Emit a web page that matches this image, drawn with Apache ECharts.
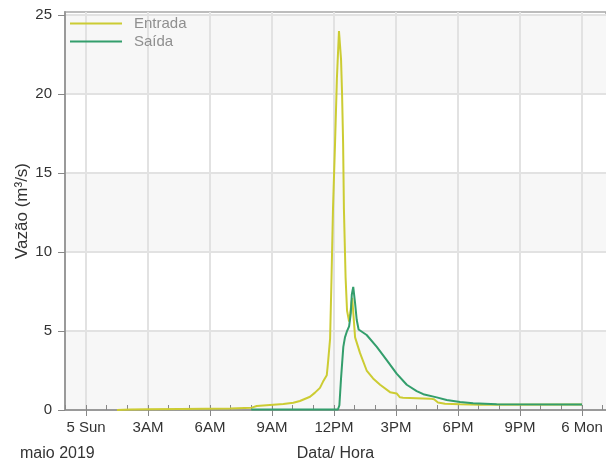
<!DOCTYPE html>
<html>
<head>
<meta charset="utf-8">
<script src="https://cdn.jsdelivr.net/npm/echarts@6/dist/echarts.min.js"></script>
<style>
  html, body { margin: 0; padding: 0; background: #ffffff; }
  #chart { width: 606px; height: 463px; }
</style>
</head>
<body>
<div id="chart"></div>
<script>
// Hours counted from 00:00 on 5 May 2019
const entradaHoras = [1.5, 2.13, 2.94, 4.55, 6.97, 8.02, 8.26, 8.90, 9.55, 10.03, 10.35, 10.84, 11.08, 11.32, 11.47, 11.65, 11.71, 11.81, 11.88, 11.95, 12.05, 12.14, 12.24, 12.34, 12.39, 12.44, 12.48, 12.56, 12.63, 12.73, 12.88, 13.02, 13.26, 13.58, 13.89, 14.23, 14.71, 15.03, 15.19, 15.34, 16.64, 16.84, 17.03, 17.37, 18.10, 19.06, 24.0];
const entradaVazao = [0.0, 0.03, 0.05, 0.07, 0.10, 0.15, 0.25, 0.32, 0.38, 0.46, 0.57, 0.84, 1.1, 1.4, 1.8, 2.2, 3.0, 4.5, 8.4, 12.7, 16.9, 21.0, 24.0, 22.2, 20.0, 16.9, 12.7, 8.4, 6.3, 5.6, 7.1, 4.6, 3.6, 2.5, 2.0, 1.6, 1.13, 1.05, 0.8, 0.78, 0.72, 0.68, 0.48, 0.40, 0.36, 0.34, 0.35];

const saidaHoras = [8.0, 12.19, 12.26, 12.34, 12.45, 12.53, 12.63, 12.73, 12.81, 12.86, 12.93, 13.02, 13.10, 13.19, 13.58, 14.07, 14.55, 15.03, 15.52, 16.00, 16.32, 16.97, 17.45, 18.10, 18.73, 19.87, 24.0];
const saidaVazao = [0.03, 0.03, 0.3, 2.0, 4.0, 4.6, 5.0, 5.3, 6.1, 7.3, 7.8, 6.75, 5.7, 5.1, 4.75, 4.0, 3.16, 2.3, 1.6, 1.2, 1.0, 0.8, 0.63, 0.5, 0.42, 0.37, 0.35];

const tickHoras = [0, 3, 6, 9, 12, 15, 18, 21, 24];
const tickLabels = ['5 Sun', '3AM', '6AM', '9AM', '12PM', '3PM', '6PM', '9PM', '6 Mon'];
const yTicks = [0, 5, 10, 15, 20, 25];

const hourTicks = [];
for (let h = -1; h <= 25; h++) hourTicks.push(h);

const pairs = (xs, ys) => xs.map((x, i) => [x, ys[i]]);

const FONT = 'Liberation Sans, Arial, sans-serif';
const xMin = -1.016, xMax = 25.16;

const chart = echarts.init(document.getElementById('chart'), null, { renderer: 'canvas' });
chart.setOption({
  animation: false,
  backgroundColor: '#ffffff',
  textStyle: { fontFamily: FONT },
  grid: {
    left: 65, right: 0, top: 12, bottom: 53,
    outerBoundsMode: 'none', containLabel: false,
    show: true, borderColor: '#a8a8a8', borderWidth: 1.5, backgroundColor: 'transparent'
  },
  legend: {
    orient: 'vertical', left: 65, top: 11,
    icon: 'rect', itemWidth: 52, itemHeight: 2, itemGap: 3,
    textStyle: { color: '#8f8f8f', fontSize: 15, fontFamily: FONT, padding: [0, 0, 0, 7] },
    data: ['Entrada', 'Saída']
  },
  xAxis: [
    {
      type: 'value', position: 'bottom', min: xMin, max: xMax,
      axisLine: { show: true, onZero: false, lineStyle: { color: '#9a9a9a', width: 2 } },
      axisTick: { show: true, inside: true, length: 5, customValues: hourTicks, lineStyle: { color: '#888888', width: 1 } },
      axisLabel: { show: false },
      splitLine: { show: false }
    },
    {
      type: 'value', position: 'bottom', min: xMin, max: xMax,
      name: 'Data/ Hora', nameLocation: 'middle', nameGap: 36,
      nameTextStyle: { color: '#333333', fontSize: 16, fontFamily: FONT },
      axisLine: { show: false, onZero: false },
      axisTick: { show: true, inside: false, length: 6, customValues: tickHoras, lineStyle: { color: '#888888', width: 1 } },
      axisLabel: {
        customValues: tickHoras, margin: 10, color: '#333333', fontSize: 15, fontFamily: FONT,
        formatter: v => tickLabels[tickHoras.indexOf(Math.round(v))] || ''
      },
      splitLine: { show: true, lineStyle: { color: '#e2e2e2', width: 2 } }
    }
  ],
  yAxis: {
    type: 'value', min: 0, max: 25.2, interval: 5,
    name: 'Vazão (m³/s)', nameLocation: 'middle', nameGap: 34, nameRotate: 90,
    nameMoveOverlap: false,
    nameTextStyle: { color: '#333333', fontSize: 17, fontFamily: FONT },
    axisLine: { show: true, onZero: false, lineStyle: { color: '#9a9a9a', width: 2 } },
    axisTick: { show: true, length: 7, customValues: yTicks, lineStyle: { color: '#888888' } },
    axisLabel: { customValues: yTicks, margin: 13, color: '#333333', fontSize: 15, fontFamily: FONT },
    splitLine: { show: true, lineStyle: { color: '#e2e2e2', width: 2 } },
    splitArea: { show: true, areaStyle: { color: ['#f7f7f7', '#ffffff'] } }
  },
  graphic: [{
    type: 'text', left: 20, top: 446,
    style: { text: 'maio 2019', fill: '#333333', font: '16px ' + FONT }
  }],
  series: [
    {
      name: 'Entrada', type: 'line', xAxisIndex: 0, showSymbol: false, symbol: 'none',
      data: pairs(entradaHoras, entradaVazao),
      lineStyle: { color: '#cccc33', width: 2 }, itemStyle: { color: '#cccc33' }, z: 3
    },
    {
      name: 'Saída', type: 'line', xAxisIndex: 0, showSymbol: false, symbol: 'none',
      data: pairs(saidaHoras, saidaVazao),
      lineStyle: { color: '#339e6c', width: 2 }, itemStyle: { color: '#339e6c' }, z: 4
    }
  ]
});
</script>
</body>
</html>
